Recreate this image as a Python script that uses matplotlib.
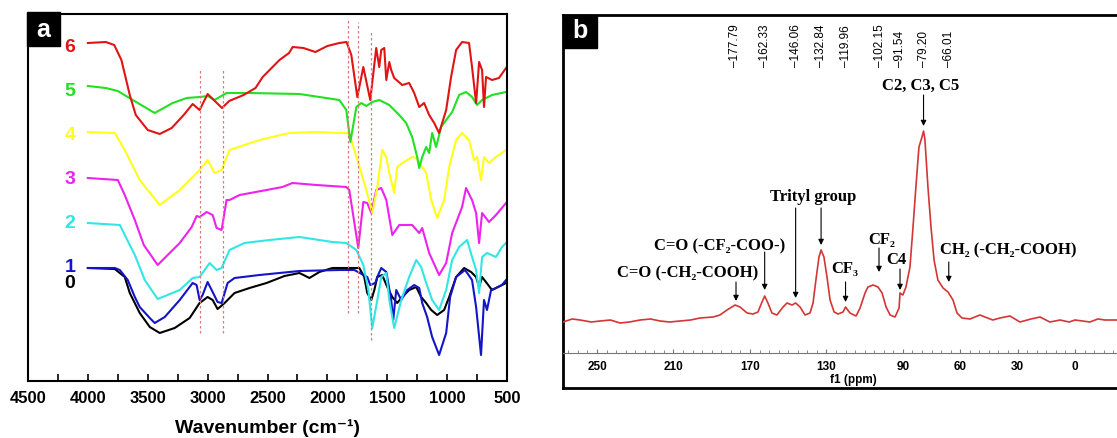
import matplotlib.pyplot as plt
import numpy as np
from matplotlib.patches import Rectangle
from matplotlib.ticker import MultipleLocator, FixedLocator
import matplotlib.transforms as mtransforms

# ---------------- panel a: FTIR spectra (transmittance, a.u., stacked) ----------------
wn0 = [4000, 3775, 3692, 3650, 3567, 3483, 3400, 3275, 3150, 3067, 3000, 2958, 2917, 2858, 2775,
       2650, 2508, 2358, 2233, 2150, 2067, 1958, 1875, 1733, 1692, 1667, 1633, 1608, 1583, 1542,
       1500, 1458, 1417, 1375, 1317, 1258, 1217, 1175, 1133, 1083, 1025, 983, 925, 858, 800,
       758, 733, 708, 625, 508]
t0 = [113, 112, 104, 88, 68, 54, 48, 53, 63, 78, 84, 81, 72, 78, 88,
      93, 98, 105, 108, 103, 109, 113, 113, 113, 104, 88, 81, 91, 104, 106,
      94, 84, 78, 84, 91, 94, 84, 78, 71, 66, 71, 84, 104, 113, 109,
      104, 94, 104, 91, 98]

wn1 = [4000, 3775, 3733, 3667, 3608, 3567, 3483, 3442, 3358, 3233, 3125, 3092, 3067, 3042, 3000,
       2958, 2917, 2883, 2833, 2775, 2567, 2233, 1900, 1775, 1667, 1642, 1600, 1583, 1550, 1508,
       1467, 1450, 1425, 1383, 1333, 1275, 1233, 1208, 1167, 1125, 1067, 1008, 975, 925, 850,
       792, 758, 717, 692, 667, 633, 592, 542, 508]
t1 = [113, 113, 111, 101, 84, 74, 63, 58, 64, 81, 98, 96, 81, 86, 99,
      89, 79, 78, 98, 103, 106, 110, 111, 111, 104, 96, 98, 104, 113, 109,
      81, 61, 91, 81, 91, 96, 93, 78, 64, 44, 26, 48, 84, 104, 111,
      101, 74, 26, 81, 71, 91, 93, 96, 101]

wn2 = [4000, 3733, 3692, 3608, 3525, 3417, 3233, 3125, 3067, 2983, 2925, 2883, 2817, 2692, 2483,
       2233, 1958, 1842, 1758, 1700, 1658, 1625, 1583, 1550, 1508, 1483, 1442, 1383, 1317, 1258,
       1217, 1175, 1125, 1067, 1008, 958, 900, 833, 792, 758, 733, 708, 667, 592, 542, 508]
t2 = [158, 156, 146, 126, 101, 82, 91, 103, 104, 118, 111, 113, 131, 138, 141,
      144, 139, 138, 131, 116, 91, 53, 81, 104, 108, 81, 53, 81, 104, 121,
      114, 98, 81, 71, 91, 121, 134, 141, 124, 111, 88, 124, 128, 124, 134, 138]

wn3 = [4000, 3750, 3692, 3608, 3533, 3417, 3233, 3133, 3092, 3067, 3008, 2958, 2925, 2883, 2842,
       2817, 2733, 2508, 2375, 2292, 2092, 1842, 1817, 1742, 1700, 1667, 1633, 1592, 1550, 1508,
       1458, 1400, 1292, 1233, 1208, 1150, 1067, 1008, 958, 875, 842, 792, 758, 733, 708,
       650, 592, 508]
t3 = [203, 201, 186, 161, 136, 116, 138, 154, 165, 164, 169, 166, 153, 151, 181,
      181, 186, 191, 194, 198, 196, 194, 191, 133, 179, 178, 168, 191, 193, 181,
      146, 156, 156, 148, 153, 128, 106, 118, 148, 174, 193, 181, 168, 138, 168,
      159, 166, 178]

wn4 = [4000, 3775, 3692, 3567, 3400, 3233, 3067, 3000, 2942, 2883, 2817, 2567, 2317, 2100, 1900,
       1825, 1800, 1742, 1675, 1625, 1583, 1542, 1508, 1483, 1442, 1417, 1375, 1333, 1292, 1258,
       1175, 1133, 1083, 1025, 983, 925, 875, 817, 775, 750, 717, 692, 650, 592, 508]
t4 = [249, 248, 231, 201, 176, 191, 211, 221, 208, 211, 231, 241, 248, 249, 248,
      248, 241, 218, 191, 168, 194, 231, 224, 208, 188, 214, 218, 221, 224, 223,
      208, 181, 163, 181, 214, 241, 248, 241, 221, 224, 201, 224, 218, 224, 231]

wn5 = [4000, 3850, 3750, 3625, 3442, 3292, 3175, 3067, 3000, 2942, 2842, 2650, 2233, 1900, 1842,
       1808, 1758, 1717, 1675, 1625, 1567, 1483, 1400, 1342, 1292, 1250, 1233, 1208, 1175, 1150,
       1125, 1092, 1050, 1008, 958, 900, 842, 792, 750, 708, 625, 508]
t5 = [295, 293, 290, 281, 268, 278, 283, 284, 285, 281, 288, 288, 287, 281, 271,
      239, 274, 278, 275, 279, 281, 276, 266, 258, 244, 224, 213, 224, 234, 228,
      248, 234, 254, 261, 269, 286, 289, 284, 276, 281, 286, 289]

wn6 = [4000, 3850, 3780, 3720, 3650, 3600, 3500, 3400, 3300, 3200, 3125, 3067, 3000, 2940, 2880,
       2820, 2700, 2600, 2540, 2400, 2320, 2290, 2200, 2100, 2000, 1900, 1840, 1800, 1750, 1700,
       1642, 1592, 1567, 1550, 1525, 1508, 1483, 1467, 1442, 1375, 1317, 1275, 1233, 1192, 1150,
       1108, 1067, 1008, 967, 925, 875, 817, 792, 758, 733, 708, 692, 675, 625, 567, 508]
t6 = [338, 339, 336, 321, 286, 266, 251, 247, 253, 266, 277, 271, 287, 280, 273,
      280, 286, 293, 304, 321, 328, 334, 333, 329, 335, 338, 339, 326, 284, 314,
      281, 333, 314, 331, 333, 301, 319, 311, 303, 296, 298, 288, 274, 278, 266,
      258, 248, 271, 304, 331, 339, 338, 314, 278, 319, 311, 274, 304, 301, 303, 313]

sample_labels = ['0', '1', '2', '3', '4', '5', '6']
label_levels = [97, 113, 157, 201, 245, 289, 333]
ir_colors = ['black', '#1414c8', '#33e6e6', '#ee22ee', '#ffff1a', '#22e022', '#e01414']

# guide lines (cm-1) with their vertical extent
guide_wn = [3067, 2875, 1825, 1742, 1633]
guide_lo = [48, 48, 68, 68, 41]
guide_hi = [312, 312, 362, 359, 351]

# ---------------- panel b: 13C NMR ----------------
ppm = [267.8, 263.0, 258.9, 253.0, 248.4, 243.0, 238.0, 233.0, 227.5, 222.0, 217.0, 212.0,
       206.6, 201.0, 196.1, 189.3, 185.7,
       182.0, 177.8, 175.2, 171.5, 168.4, 165.8, 163.7, 162.3, 160.6, 158.5,
       155.9, 152.7, 150.6, 148.0, 146.1, 143.8, 141.2, 138.6, 137.0, 135.5,
       133.9, 132.8, 131.3, 129.7, 128.1, 126.0, 123.9, 121.3, 120.0, 117.7,
       114.5, 112.4, 109.8, 108.3, 105.6, 103.0, 100.9, 98.8, 96.7, 94.1,
       92.0, 91.5, 90.0, 88.4, 86.3, 84.7, 83.2, 81.6, 80.0, 79.2,
       78.5, 76.9, 75.3, 73.7, 71.7, 69.0, 66.4, 63.8, 61.7, 59.1,
       54.9, 49.7, 47.1, 43.0, 39.2, 34.0, 28.8, 23.0, 18.3, 13.1, 7.8, 3.0, 0.0,
       -4.0, -7.8, -12.0, -15.7, -22.0]
nmr = [31, 34, 33, 31, 32, 33, 30, 31, 33, 34, 32, 31,
       32, 33, 35, 36, 38,
       43, 48, 46, 40, 39, 41, 51, 57, 50, 40,
       38, 46, 50, 48, 50, 46, 38, 40, 50, 73,
       96, 103, 96, 76, 53, 41, 39, 41, 46, 40,
       37, 45, 60, 66, 68, 66, 60, 46, 38, 36,
       45, 60, 58, 66, 86, 126, 166, 206, 216, 222,
       214, 166, 126, 93, 73, 65, 61, 53, 40, 35,
       34, 38, 36, 33, 35, 37, 31, 34, 36, 31, 33, 31, 33,
       32, 31, 34, 33, 33]

peak_ppm = [177.79, 162.33, 146.06, 132.84, 119.96, 102.15, 91.54, 79.20, 66.01]
nmr_ticks = [250, 210, 170, 130, 90, 60, 30, 0]

# label text, text position (ppm, a.u.), arrows [(ppm, start, end)]
notes = [
    ('C2, C3, C5', 80.5, 267, [(79.2, 258, 227)]),
    ('Trityl group', 137.0, 156, [(146.1, 145, 55), (132.8, 145, 108)]),
    ('C=O (-CF\u2082-COO-)', 185.7, 107, [(162.3, 101, 63)]),
    ('C=O (-CH\u2082-COOH)', 202.4, 80, [(177.3, 71, 52)]),
    ('CF\u2083', 120.3, 84, [(120.0, 71, 51)]),
    ('CF\u2082', 101.0, 113, [(102.5, 105, 81)]),
    ('C4', 93.6, 93, [(91.5, 84, 63)]),
    ('CH\u2082 (-CH\u2082-COOH)', 35.0, 103, [(66.0, 91, 71)]),
]

W, H = 1117, 438
sans = ['Liberation Sans', 'DejaVu Sans']
serif = ['Liberation Serif', 'DejaVu Serif']

fig = plt.figure(figsize=(W / 100, H / 100), dpi=100)

# ---- panel a ----
ax = fig.add_axes([28 / W, 1 - 381 / H, 479 / W, 367 / H])
spectra = [(wn0, t0), (wn1, t1), (wn2, t2), (wn3, t3), (wn4, t4), (wn5, t5), (wn6, t6)]
for (x, y), c in zip(spectra, ir_colors):
    ax.plot(x, y, color=c, lw=1.5)
for lab, lev, c in zip(sample_labels, label_levels, ir_colors):
    ax.text(4150, lev, lab, color=c, fontsize=14, fontweight='bold', family=sans,
            ha='center', va='center')
for g, lo, hi in zip(guide_wn, guide_lo, guide_hi):
    ax.plot([g, g], [lo, hi], color='#d97a7a', lw=0.9, ls=(0, (2, 2)))

ax.set_xlim(4500, 500)
ax.set_ylim(0, 367)
ax.set_yticks([])
ax.xaxis.set_major_locator(MultipleLocator(500))
ax.xaxis.set_minor_locator(MultipleLocator(250))
ax.tick_params(axis='x', which='both', direction='in', length=5, width=1.2, pad=7)
for t in ax.get_xticklabels():
    t.set_fontweight('bold')
    t.set_fontsize(12)
    t.set_family(sans)
for s in ax.spines.values():
    s.set_linewidth(1.5)
ax.set_xlabel('Wavenumber (cm\u207b\u00b9)', fontsize=14, fontweight='bold', family=sans,
              labelpad=10)

fig.patches.append(Rectangle((27 / W, 1 - 46 / H), 33 / W, 34 / H, transform=fig.transFigure,
                             color='black', zorder=5))
fig.text(43.5 / W, 1 - 30 / H, 'a', color='white', fontsize=18, fontweight='bold', family=sans,
         ha='center', va='center', zorder=6)

# ---- panel b ----
frame = fig.add_axes([563 / W, 1 - 388 / H, 0.6, 373 / H])
frame.set_xticks([])
frame.set_yticks([])
for s in frame.spines.values():
    s.set_linewidth(2)

bx = fig.add_axes([563 / W, 1 - 353 / H, (W - 563) / W, 338 / H])
bx.patch.set_alpha(0)
bx.plot(ppm, nmr, color='#d43535', lw=1.2)
bx.set_xlim(267.8, -22)
bx.set_ylim(0, 338)
bx.set_yticks([])
for k in ['top', 'left', 'right']:
    bx.spines[k].set_visible(False)
bx.spines['bottom'].set_color('#777777')
bx.spines['bottom'].set_linewidth(0.8)
bx.xaxis.set_major_locator(FixedLocator(nmr_ticks))
bx.xaxis.set_minor_locator(MultipleLocator(5))
bx.tick_params(axis='x', which='major', direction='in', length=3, width=0.8, color='#777777',
               pad=5.5, labelsize=8.5)
bx.tick_params(axis='x', which='minor', direction='in', length=2, width=0.6, color='#777777')
for t in bx.get_xticklabels():
    t.set_fontweight('bold')
    t.set_family(sans)

trans = mtransforms.blended_transform_factory(bx.transData, bx.transAxes)
for p in peak_ppm:
    bx.text(p, 0.846, '\u2013' + f'{p:.2f}', rotation=90, transform=trans, ha='center',
            va='bottom', fontsize=8.5, family=sans)

for txt, tx, ty, arrows in notes:
    bx.text(tx, ty, txt, fontsize=12, fontweight='bold', family=serif, ha='center', va='center')
    for ap, a0, a1 in arrows:
        bx.annotate('', xy=(ap, a1), xytext=(ap, a0),
                    arrowprops=dict(arrowstyle='-|>', color='black', lw=0.8,
                                    mutation_scale=8, shrinkA=0, shrinkB=0))

fig.text(853 / W, 1 - 380 / H, 'f1 (ppm)', fontsize=8.5, fontweight='bold', family=sans,
         ha='center', va='center')

fig.patches.append(Rectangle((563 / W, 1 - 48 / H), 34 / W, 33 / H, transform=fig.transFigure,
                             color='black', zorder=5))
fig.text(580 / W, 1 - 31 / H, 'b', color='white', fontsize=18, fontweight='bold', family=sans,
         ha='center', va='center', zorder=6)

fig.savefig('out.png', dpi=100)
